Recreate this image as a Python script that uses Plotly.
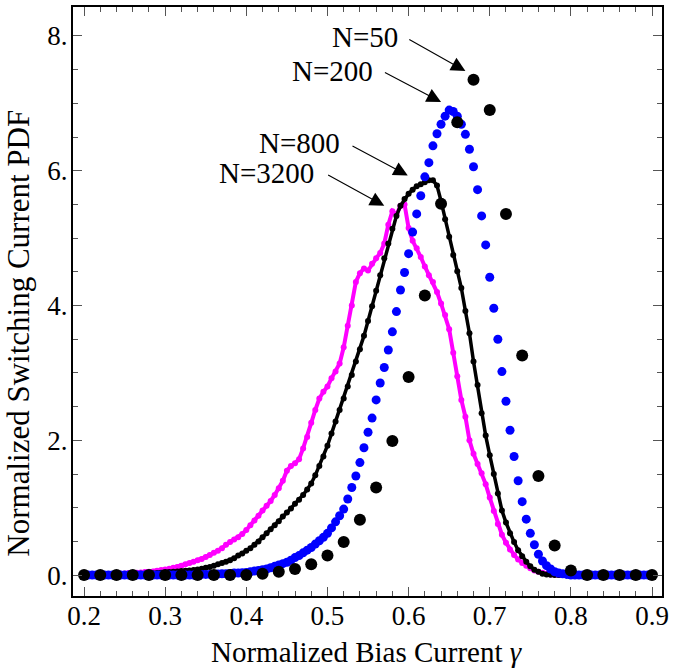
import plotly.graph_objects as go

# ---- data ----
# N=50 : x from 0.20 to 0.90, step 0.02
x50_start, x50_step = 0.20, 0.02
pdf_n50 = [
    0.0, 0.0, 0.0, 0.0, 0.0, 0.0, 0.0, 0.0, 0.0, 0.0, 0.0,      # 0.20 - 0.40
    0.02, 0.05, 0.09, 0.16, 0.29, 0.49, 0.82, 1.30, 1.99, 2.94,  # 0.42 - 0.60
    4.15, 5.51, 6.72, 7.35, 6.90, 5.36, 3.26, 1.47, 0.44, 0.07,  # 0.62 - 0.80
    0.0, 0.0, 0.0, 0.0, 0.0,                                    # 0.82 - 0.90
]

# N=200, N=800, N=3200 : x from 0.200 to 0.900, step 0.005
xf_start, xf_step = 0.20, 0.005
pdf_n200 = [
    0.0, 0.0, 0.0, 0.0, 0.0, 0.0, 0.0, 0.0, 0.0, 0.0,            # 0.200 - 0.245
    0.0, 0.0, 0.0, 0.0, 0.0, 0.0, 0.0, 0.0, 0.0, 0.0,            # 0.250 - 0.295
    0.0, 0.0, 0.0, 0.0, 0.0, 0.0, 0.0, 0.0, 0.0, 0.01,           # 0.300 - 0.345
    0.01, 0.01, 0.01, 0.015, 0.02, 0.02, 0.025, 0.03, 0.03, 0.035,  # 0.350 - 0.395
    0.04, 0.05, 0.06, 0.07, 0.08, 0.09, 0.11, 0.13, 0.15, 0.17,  # 0.400 - 0.445
    0.19, 0.22, 0.26, 0.29, 0.33, 0.37, 0.41, 0.46, 0.51, 0.56,  # 0.450 - 0.495
    0.62, 0.70, 0.79, 0.88, 0.98, 1.13, 1.30, 1.47, 1.67, 1.89,  # 0.500 - 0.545
    2.12, 2.33, 2.60, 2.85, 3.08, 3.34, 3.61, 3.91, 4.23, 4.49,  # 0.550 - 0.595
    4.77, 5.09, 5.36, 5.63, 5.91, 6.12, 6.37, 6.55, 6.69, 6.81,  # 0.600 - 0.645
    6.90, 6.88, 6.81, 6.69, 6.54, 6.32, 6.06, 5.72, 5.33, 4.90,  # 0.650 - 0.695
    4.42, 3.96, 3.50, 3.02, 2.58, 2.15, 1.76, 1.40, 1.09, 0.83,  # 0.700 - 0.745
    0.62, 0.45, 0.31, 0.21, 0.14, 0.09, 0.05, 0.03, 0.02, 0.01,  # 0.750 - 0.795
    0.0, 0.0, 0.0, 0.0, 0.0, 0.0, 0.0, 0.0, 0.0, 0.0,            # 0.800 - 0.845
    0.0, 0.0, 0.0, 0.0, 0.0, 0.0, 0.0, 0.0, 0.0, 0.0,            # 0.850 - 0.895
    0.0,                                                        # 0.900
]
pdf_n800 = [
    0.0, 0.0, 0.0, 0.0, 0.005, 0.005, 0.005, 0.01, 0.01, 0.01,   # 0.200 - 0.245
    0.01, 0.012, 0.015, 0.017, 0.02, 0.02, 0.025, 0.027, 0.03, 0.035,  # 0.250 - 0.295
    0.04, 0.045, 0.05, 0.055, 0.06, 0.065, 0.07, 0.075, 0.085, 0.095,  # 0.300 - 0.345
    0.11, 0.12, 0.14, 0.16, 0.18, 0.20, 0.22, 0.25, 0.29, 0.32,  # 0.350 - 0.395
    0.36, 0.40, 0.45, 0.50, 0.56, 0.62, 0.68, 0.74, 0.80, 0.87,  # 0.400 - 0.445
    0.93, 0.99, 1.06, 1.12, 1.19, 1.27, 1.36, 1.48, 1.62, 1.76,  # 0.450 - 0.495
    1.92, 2.10, 2.28, 2.45, 2.62, 2.80, 2.97, 3.17, 3.35, 3.55,  # 0.500 - 0.545
    3.77, 3.99, 4.22, 4.45, 4.70, 4.92, 5.14, 5.33, 5.48, 5.58,  # 0.550 - 0.595
    5.66, 5.72, 5.77, 5.80, 5.83, 5.86, 5.86, 5.78, 5.55, 5.28,  # 0.600 - 0.645
    5.02, 4.75, 4.51, 4.26, 3.92, 3.59, 3.17, 2.82, 2.40, 2.07,  # 0.650 - 0.695
    1.78, 1.50, 1.21, 0.96, 0.78, 0.62, 0.49, 0.37, 0.28, 0.20,  # 0.700 - 0.745
    0.13, 0.08, 0.05, 0.02, 0.01, 0.005, 0.0, 0.0, 0.0, 0.0,     # 0.750 - 0.795
    0.0, 0.0, 0.0, 0.0, 0.0, 0.0, 0.0, 0.0, 0.0, 0.0,            # 0.800 - 0.845
    0.0, 0.0, 0.0, 0.0, 0.0, 0.0, 0.0, 0.0, 0.0, 0.0,            # 0.850 - 0.895
    0.0,                                                        # 0.900
]
pdf_n3200 = [
    0.005, 0.005, 0.01, 0.01, 0.01, 0.012, 0.015, 0.015, 0.02, 0.02,  # 0.200 - 0.245
    0.025, 0.03, 0.03, 0.035, 0.04, 0.045, 0.05, 0.055, 0.065, 0.075,  # 0.250 - 0.295
    0.085, 0.095, 0.11, 0.12, 0.14, 0.16, 0.18, 0.20, 0.22, 0.24,  # 0.300 - 0.345
    0.27, 0.30, 0.33, 0.36, 0.40, 0.45, 0.49, 0.53, 0.56, 0.61,  # 0.350 - 0.395
    0.67, 0.74, 0.81, 0.88, 0.96, 1.03, 1.10, 1.19, 1.29, 1.40,  # 0.400 - 0.445
    1.55, 1.62, 1.66, 1.72, 1.88, 2.05, 2.26, 2.45, 2.62, 2.72,  # 0.450 - 0.495
    2.80, 2.92, 3.02, 3.14, 3.38, 3.70, 4.00, 4.35, 4.48, 4.55,  # 0.500 - 0.545
    4.52, 4.62, 4.70, 4.78, 4.92, 5.20, 5.40, 5.35, 5.48, 5.50,  # 0.550 - 0.595
    5.15, 4.96, 4.85, 4.72, 4.58, 4.45, 4.35, 4.20, 4.03, 3.86,  # 0.600 - 0.645
    3.65, 3.30, 2.95, 2.60, 2.35, 2.00, 1.80, 1.65, 1.51, 1.35,  # 0.650 - 0.695
    1.15, 0.95, 0.76, 0.60, 0.48, 0.38, 0.30, 0.23, 0.18, 0.14,  # 0.700 - 0.745
    0.10, 0.07, 0.05, 0.035, 0.02, 0.01, 0.005, 0.0, 0.0, 0.0,   # 0.750 - 0.795
    0.0, 0.0, 0.0, 0.0, 0.0, 0.0, 0.0, 0.0, 0.0, 0.0,            # 0.800 - 0.845
    0.0, 0.0, 0.0, 0.0, 0.0, 0.0, 0.0, 0.0, 0.0, 0.0,            # 0.850 - 0.895
    0.0,                                                        # 0.900
]

labels = ['N=50', 'N=200', 'N=800', 'N=3200']
# text anchor (right end) and arrow tail / head, in data units
label_pos = [(0.589, 7.98), (0.558, 7.48), (0.5185, 6.41), (0.486, 5.96)]
arrow_tail = [(0.599, 7.96), (0.569, 7.47), (0.529, 6.38), (0.499, 5.95)]
arrow_head = [(0.670, 7.48), (0.640, 7.02), (0.599, 5.93), (0.570, 5.48)]

yticks = [0, 2, 4, 6, 8]
ytick_text = ['0.', '2.', '4.', '6.', '8.']
xticks = [0.2, 0.3, 0.4, 0.5, 0.6, 0.7, 0.8, 0.9]

x50 = [round(x50_start + i * x50_step, 3) for i in range(len(pdf_n50))]
xf = [round(xf_start + i * xf_step, 4) for i in range(len(pdf_n200))]
assert len(pdf_n200) == len(pdf_n800) == len(pdf_n3200) == 141
assert len(pdf_n50) == 36

FONT = 'Liberation Serif'

fig = go.Figure()
fig.add_trace(go.Scatter(x=xf, y=pdf_n3200, mode='lines+markers',
                         line=dict(color='#ff00ff', width=4),
                         marker=dict(color='#ff00ff', size=6), name='N=3200'))
fig.add_trace(go.Scatter(x=xf, y=pdf_n800, mode='lines+markers',
                         line=dict(color='black', width=3.5),
                         marker=dict(color='black', size=6), name='N=800'))
fig.add_trace(go.Scatter(x=xf, y=pdf_n200, mode='markers',
                         marker=dict(color='#0000ff', size=9), name='N=200'))
fig.add_trace(go.Scatter(x=x50, y=pdf_n50, mode='markers',
                         marker=dict(color='black', size=12), name='N=50'))

for lab, (tx, ty), (ax, ay), (hx, hy) in zip(labels, label_pos, arrow_tail, arrow_head):
    fig.add_annotation(x=tx, y=ty, text=lab, showarrow=False, xanchor='right',
                       yanchor='middle', font=dict(family=FONT, size=29, color='black'))
    fig.add_annotation(x=hx, y=hy, ax=ax, ay=ay, axref='x', ayref='y', text='',
                       showarrow=True, arrowhead=2, arrowsize=2.6, arrowwidth=1.1,
                       arrowcolor='black')

# axis titles placed as paper annotations
fig.add_annotation(x=0.499, y=-0.095, xref='paper', yref='paper', showarrow=False,
                   text='Normalized Bias Current <i>γ</i>', xanchor='center', yanchor='middle',
                   font=dict(family=FONT, size=29, color='black'))
fig.add_annotation(x=-0.094, y=0.4465, xref='paper', yref='paper', showarrow=False,
                   text='Normalized Switching Current PDF', textangle=-90,
                   xanchor='center', yanchor='middle',
                   font=dict(family=FONT, size=31, color='black'))

axis_common = dict(showline=True, linecolor='black', linewidth=2, mirror='ticks',
                   ticks='inside', tickcolor='#555', tickwidth=1, ticklen=9,
                   showgrid=False, zeroline=False,
                   tickfont=dict(family=FONT, size=27, color='black'))

fig.update_xaxes(range=[0.1864, 0.9123], tickvals=xticks,
                 ticktext=[f'{v:.1f}' for v in xticks], ticklabelstandoff=-5,
                 minor=dict(ticks='inside', dtick=0.02, tick0=0.2, ticklen=5,
                            tickcolor='#555', tickwidth=1, showgrid=False),
                 **axis_common)
fig.update_yaxes(range=[-0.31, 8.43], tickvals=yticks, ticktext=ytick_text,
                 ticklabelstandoff=-2,
                 minor=dict(ticks='inside', dtick=0.5, tick0=0, ticklen=5,
                            tickcolor='#555', tickwidth=1, showgrid=False),
                 **axis_common)

fig.update_layout(width=685, height=668, showlegend=False,
                  plot_bgcolor='white', paper_bgcolor='white',
                  margin=dict(l=73, r=23, t=7, b=72, autoexpand=False),
                  font=dict(family=FONT, color='black'))

fig.write_html('out.html', config={'displayModeBar': False},
               post_script="document.body.style.margin='0';")
